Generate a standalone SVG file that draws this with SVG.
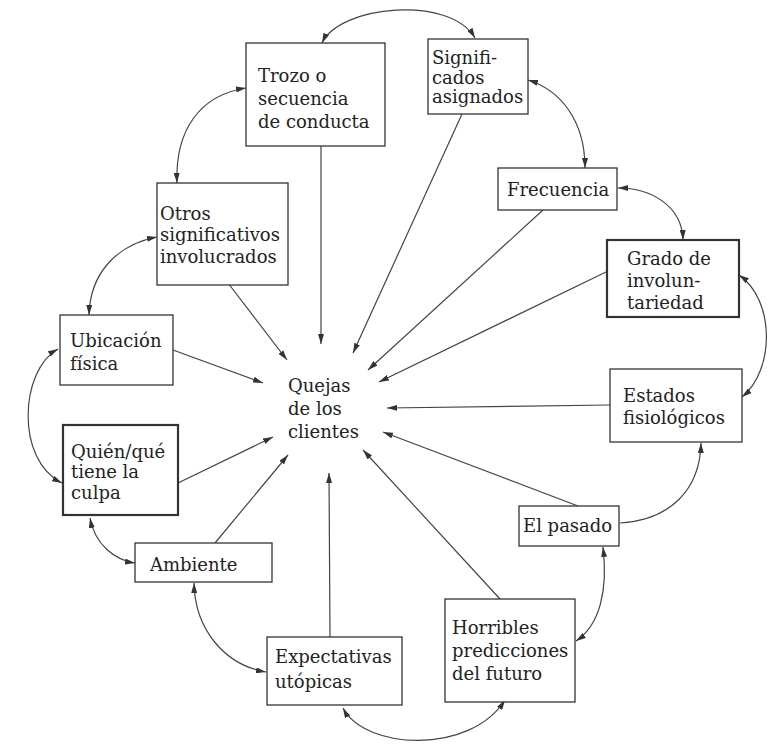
<svg xmlns="http://www.w3.org/2000/svg" width="770" height="747" viewBox="0 0 770 747">
<style>
.box{fill:#fff;stroke:#333;stroke-width:1.3}
.thick{stroke-width:2.2}
text{font-family:"DejaVu Serif","Liberation Serif",serif;font-size:18px;fill:#222}
.c{fill:none;stroke:#444;stroke-width:1.2}
.s{marker-end:url(#ah)}
.b{marker-start:url(#ah);marker-end:url(#ah)}
</style>
<defs>
<marker id="ah" viewBox="0 0 10 6" refX="10" refY="3" markerWidth="10" markerHeight="6" markerUnits="userSpaceOnUse" orient="auto-start-reverse">
<path d="M0,0 L10,3 L0,6 Z" fill="#333"/>
</marker>
</defs>
<rect width="770" height="747" fill="#fff"/>
<g id="connectors">
<line class="c s" x1="321" y1="146" x2="321" y2="344"/>
<line class="c s" x1="462" y1="114" x2="353" y2="353"/>
<line class="c s" x1="543" y1="210" x2="368" y2="370"/>
<line class="c s" x1="606" y1="272" x2="379" y2="382"/>
<line class="c s" x1="610" y1="405" x2="387" y2="408"/>
<line class="c s" x1="578" y1="506" x2="383" y2="432"/>
<line class="c s" x1="500" y1="599" x2="363" y2="450"/>
<line class="c s" x1="330" y1="637" x2="329" y2="473"/>
<line class="c s" x1="215" y1="543" x2="288" y2="455"/>
<line class="c s" x1="178" y1="483" x2="273" y2="437"/>
<line class="c s" x1="173" y1="350" x2="263" y2="383"/>
<line class="c s" x1="228" y1="283" x2="287" y2="360"/>
<path class="c b" d="M322,43 C340,5 450,-5 475,38"/>
<path class="c b" d="M246,88 C200,95 175,130 177,183"/>
<path class="c b" d="M157,237 C115,245 90,275 89,315"/>
<path class="c b" d="M58,349 C20,370 15,460 62,483"/>
<path class="c b" d="M90,518 C95,545 115,560 135,563"/>
<path class="c b" d="M194,583 C195,630 225,665 266,672"/>
<path class="c b" d="M343,708 C365,750 470,755 505,700"/>
<path class="c b" d="M576,641 C600,625 608,590 603,547"/>
<path class="c s" d="M620,523 C670,520 700,490 701,443"/>
<path class="c b" d="M742,397 C775,370 775,300 739,275"/>
<path class="c b" d="M683,240 C682,205 650,188 618,188"/>
<path class="c b" d="M585,168 C585,120 560,90 528,80"/>
</g>
<g id="center">
<text x="288" y="392">Quejas</text>
<text x="288" y="415">de los</text>
<text x="288" y="438">clientes</text>
</g>
<g id="trozo">
<rect class="box" x="246" y="43" width="139" height="103"/>
<text x="258" y="82">Trozo o</text>
<text x="258" y="105">secuencia</text>
<text x="258" y="128">de conducta</text>
</g>
<g id="significados">
<rect class="box" x="428" y="39" width="100" height="75"/>
<text x="432" y="64">Signifi-</text>
<text x="432" y="84">cados</text>
<text x="432" y="103">asignados</text>
</g>
<g id="frecuencia">
<rect class="box" x="498" y="168" width="119" height="42"/>
<text x="507" y="196">Frecuencia</text>
</g>
<g id="grado">
<rect class="box thick" x="607" y="240" width="132" height="77"/>
<text x="627" y="265">Grado de</text>
<text x="627" y="287">involun-</text>
<text x="627" y="309">tariedad</text>
</g>
<g id="estados">
<rect class="box" x="610" y="369" width="132" height="73"/>
<text x="623" y="402">Estados</text>
<text x="623" y="424">fisiológicos</text>
</g>
<g id="pasado">
<rect class="box" x="519" y="506" width="100" height="40"/>
<text x="523" y="532">El pasado</text>
</g>
<g id="horribles">
<rect class="box" x="445" y="599" width="130" height="103"/>
<text x="452" y="634">Horribles</text>
<text x="452" y="657">predicciones</text>
<text x="452" y="680">del futuro</text>
</g>
<g id="expectativas">
<rect class="box" x="267" y="637" width="135" height="68"/>
<text x="275" y="663">Expectativas</text>
<text x="275" y="688">utópicas</text>
</g>
<g id="ambiente">
<rect class="box" x="135" y="543" width="137" height="39"/>
<text x="150" y="571">Ambiente</text>
</g>
<g id="quien">
<rect class="box thick" x="63" y="425" width="115" height="90"/>
<text x="71" y="458">Quién/qué</text>
<text x="71" y="478">tiene la</text>
<text x="71" y="499">culpa</text>
</g>
<g id="ubicacion">
<rect class="box" x="60" y="315" width="113" height="70"/>
<text x="70" y="347">Ubicación</text>
<text x="70" y="370">física</text>
</g>
<g id="otros">
<rect class="box" x="157" y="183" width="131" height="102"/>
<text x="160" y="220">Otros</text>
<text x="160" y="241">significativos</text>
<text x="160" y="263">involucrados</text>
</g>
</svg>
